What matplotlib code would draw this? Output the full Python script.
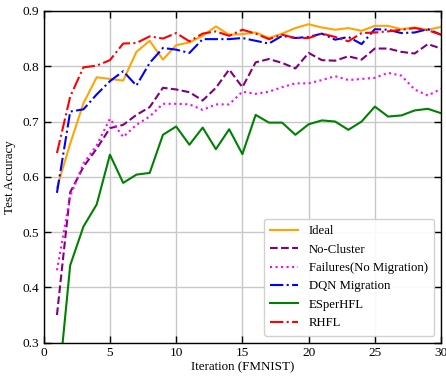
import matplotlib
matplotlib.use("Agg")
import matplotlib.pyplot as plt

iterations = list(range(1, 31))
ideal = [0.58, 0.66, 0.733, 0.78, 0.777, 0.774, 0.826, 0.846, 0.812, 0.838,
         0.843, 0.855, 0.872, 0.857, 0.858, 0.861, 0.851, 0.859, 0.869, 0.876,
         0.87, 0.866, 0.869, 0.864, 0.873, 0.873, 0.867, 0.87, 0.866, 0.871]
no_cluster = [0.35, 0.572, 0.618, 0.651, 0.688, 0.694, 0.712, 0.726, 0.761, 0.758,
              0.753, 0.738, 0.761, 0.794, 0.762, 0.807, 0.813, 0.806, 0.796, 0.824,
              0.811, 0.81, 0.818, 0.812, 0.832, 0.832, 0.826, 0.823, 0.84, 0.832]
failures = [0.431, 0.565, 0.624, 0.657, 0.705, 0.672, 0.694, 0.709, 0.732, 0.732,
            0.731, 0.721, 0.731, 0.731, 0.754, 0.75, 0.754, 0.762, 0.769, 0.769,
            0.775, 0.782, 0.775, 0.777, 0.779, 0.788, 0.783, 0.758, 0.747, 0.759]
dqn = [0.571, 0.718, 0.722, 0.749, 0.773, 0.791, 0.765, 0.806, 0.833, 0.83,
       0.824, 0.849, 0.849, 0.849, 0.851, 0.846, 0.841, 0.855, 0.851, 0.853,
       0.859, 0.848, 0.853, 0.84, 0.867, 0.866, 0.86, 0.861, 0.867, 0.857]
esperhfl = [0.195, 0.44, 0.51, 0.55, 0.64, 0.589, 0.604, 0.607, 0.676, 0.691,
            0.658, 0.689, 0.65, 0.686, 0.641, 0.712, 0.698, 0.698, 0.676, 0.695,
            0.702, 0.7, 0.685, 0.7, 0.727, 0.709, 0.711, 0.72, 0.723, 0.715]
rhfl = [0.643, 0.745, 0.798, 0.801, 0.811, 0.841, 0.842, 0.854, 0.85, 0.86,
        0.845, 0.859, 0.863, 0.855, 0.866, 0.859, 0.849, 0.857, 0.851, 0.851,
        0.859, 0.853, 0.845, 0.86, 0.861, 0.863, 0.866, 0.869, 0.865, 0.857]

plt.rcParams['font.family'] = ['Liberation Serif', 'DejaVu Serif']
plt.rcParams['mathtext.fontset'] = 'stix'

fig = plt.figure(figsize=(4.46, 3.77), dpi=100)
ax = fig.add_axes([0.098, 0.091, 0.891, 0.880])

lw = 1.5
ax.plot(iterations, ideal, color='orange', linestyle='-', lw=lw, label='Ideal')
ax.plot(iterations, no_cluster, color='purple', linestyle='--', lw=lw, label='No-Cluster')
ax.plot(iterations, failures, color='magenta', linestyle=':', lw=lw, label='Failures(No Migration)')
ax.plot(iterations, dqn, color='blue', linestyle='-.', lw=lw, label='DQN Migration')
ax.plot(iterations, esperhfl, color='green', linestyle='-', lw=lw, label='ESperHFL')
ax.plot(iterations, rhfl, color='red', linestyle='-.', lw=lw, label='RHFL')

ax.set_xlim(0, 30)
ax.set_ylim(0.3, 0.9)
ax.set_xticks([0, 5, 10, 15, 20, 25, 30])
ax.set_yticks([0.3, 0.4, 0.5, 0.6, 0.7, 0.8, 0.9])
ax.grid(True, color='#c8c8c8', linewidth=1.0)
ax.set_axisbelow(True)
ax.tick_params(direction='in', top=True, right=True, labelsize=9.6, length=5, width=1, pad=3)
for s in ax.spines.values():
    s.set_linewidth(1.0)
ax.set_xlabel('Iteration (FMNIST)', fontsize=9.4, labelpad=2)
ax.set_ylabel('Test Accuracy', fontsize=9.4, labelpad=5)

ax.legend(loc='lower right', fontsize=9.2, framealpha=0.9, edgecolor='#cccccc',
          handlelength=2.2, borderpad=0.5, labelspacing=0.5, borderaxespad=0.55)

fig.savefig('out.png', dpi=100)
